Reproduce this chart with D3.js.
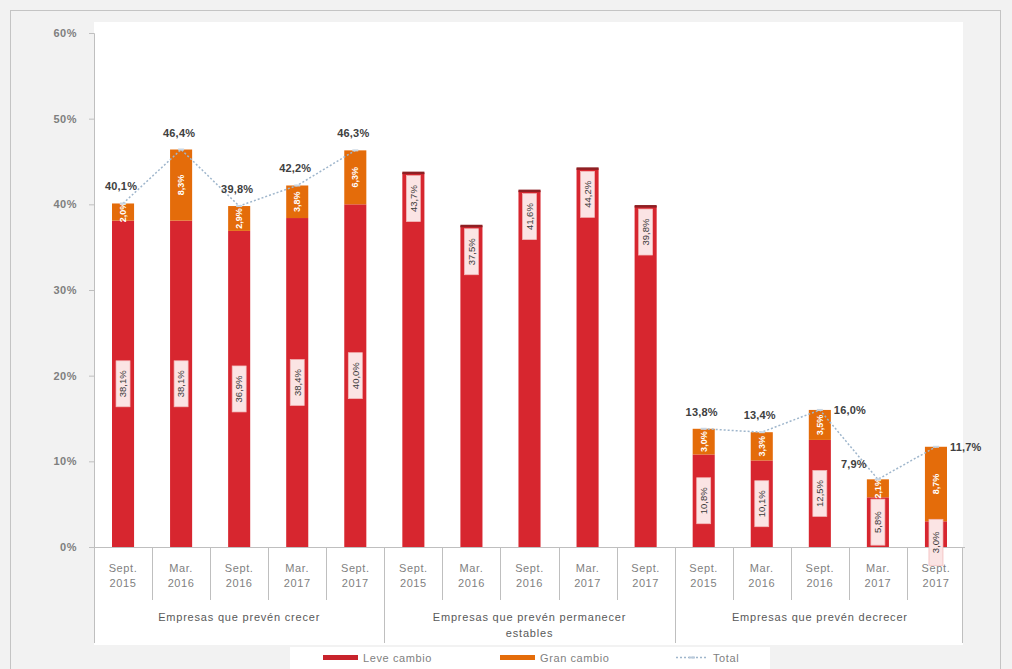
<!DOCTYPE html>
<html><head><meta charset="utf-8">
<script src="https://cdn.jsdelivr.net/npm/d3@7"></script>
<style>
html,body{margin:0;padding:0;background:#f2f2f2;}
svg{display:block;font-family:"Liberation Sans",Arial,sans-serif;}
</style></head>
<body>
<svg id="c" width="1012" height="669"></svg>
<script>
// ---- data ----
const groups = ["Empresas que prevén crecer", "Empresas que prevén permanecer estables", "Empresas que prevén decrecer"];
const periods = ["Sept. 2015", "Mar. 2016", "Sept. 2016", "Mar. 2017", "Sept. 2017"];
const leveCambio = [38.1, 38.1, 36.9, 38.4, 40.0,  43.7, 37.5, 41.6, 44.2, 39.8,  10.8, 10.1, 12.5, 5.8, 3.0];
const granCambio = [2.0, 8.3, 2.9, 3.8, 6.3,  0, 0, 0, 0, 0,  3.0, 3.3, 3.5, 2.1, 8.7];
const totalValues = [40.1, 46.4, 39.8, 42.2, 46.3,  null, null, null, null, null,  13.8, 13.4, 16.0, 7.9, 11.7];
const yTicks = [0, 10, 20, 30, 40, 50, 60];
const legendLabels = ["Leve cambio", "Gran cambio", "Total"];

const RED = "#d7262f", ORANGE = "#e46c0a", LINE = "#9fb6cc";
const fmt = v => v.toFixed(1).replace(".", ",") + "%";

const rows = [];
groups.forEach((g, gi) => periods.forEach((p, pi) => {
  const i = gi * periods.length + pi;
  rows.push({key: gi + "-" + pi, group: gi, period: p, leve: leveCambio[i], gran: granCambio[i], total: totalValues[i], idx: i});
}));

const svg = d3.select("#c");
const L = 94, R = 965, T = 33, B = 547;

// frame
svg.append("rect").attr("x", 10.5).attr("y", 10.5).attr("width", 990).attr("height", 670)
  .attr("fill", "#f2f2f2").attr("stroke", "#c4c4c4");
svg.append("rect").attr("x", L).attr("y", 22).attr("width", 869).attr("height", 623).attr("fill", "#fff");

const x = d3.scaleBand().domain(rows.map(d => d.key)).range([L, R]).paddingInner(0.62).paddingOuter(0.31);
const y = d3.scaleLinear().domain([0, 60]).range([B, T]);

// y axis
const yAxis = svg.append("g").attr("transform", `translate(${L},0)`)
  .call(d3.axisLeft(y).tickValues(yTicks).tickFormat(d => d + "%").tickSize(5).tickPadding(12));
yAxis.select(".domain").attr("stroke", "#bfbfbf");
yAxis.selectAll(".tick line").attr("stroke", "#bfbfbf");
yAxis.selectAll("text").attr("fill", "#7f7f7f").attr("font-size", 11).attr("font-weight", "bold").style("letter-spacing", "0.5px");
svg.append("line").attr("x1", L + 0.5).attr("x2", L + 0.5).attr("y1", B).attr("y2", 643).attr("stroke", "#bfbfbf");

// x baseline
svg.append("line").attr("x1", L).attr("x2", R).attr("y1", B + 0.5).attr("y2", B + 0.5).attr("stroke", "#bfbfbf");

// category separators
const step = x.step();
rows.forEach((d, i) => {
  if (i === 0) return;
  const xs = Math.round(x(d.key) - (step - x.bandwidth()) / 2) + 0.5;
  const isGroup = i % periods.length === 0;
  svg.append("line").attr("x1", xs).attr("x2", xs).attr("y1", B).attr("y2", isGroup ? 643 : 600).attr("stroke", "#bfbfbf");
});
svg.append("line").attr("x1", R - 2.5).attr("x2", R - 2.5).attr("y1", B).attr("y2", 643).attr("stroke", "#bfbfbf");

// tick labels
const tl = svg.append("g");
rows.forEach(d => {
  const cx = x(d.key) + x.bandwidth() / 2;
  const parts = d.period.split(" ");
  const t = tl.append("text").attr("x", cx).attr("text-anchor", "middle").attr("fill", "#7f7f7f")
    .attr("font-size", 11).style("letter-spacing", "0.6px");
  t.append("tspan").attr("x", cx).attr("y", 572).text(parts[0]);
  t.append("tspan").attr("x", cx).attr("y", 587).text(parts[1]);
});

// group labels
groups.forEach((g, gi) => {
  const first = x(gi * 5 + "");
});
groups.forEach((g, gi) => {
  const a = x(gi + "-0") + x.bandwidth() / 2, b = x(gi + "-4") + x.bandwidth() / 2;
  const cx = (a + b) / 2;
  const t = svg.append("text").attr("x", cx).attr("text-anchor", "middle").attr("fill", "#595959")
    .attr("font-size", 11).style("letter-spacing", "0.8px");
  if (g.length > 32) {
    const w = g.split(" ");
    t.append("tspan").attr("x", cx).attr("y", 621).text(w.slice(0, -1).join(" "));
    t.append("tspan").attr("x", cx).attr("y", 637).text(w[w.length - 1]);
  } else {
    t.append("tspan").attr("x", cx).attr("y", 621).text(g);
  }
});

// bars
const bars = svg.append("g");
bars.selectAll("rect.leve").data(rows).join("rect").attr("class", "leve")
  .attr("x", d => x(d.key)).attr("width", x.bandwidth())
  .attr("y", d => y(d.leve)).attr("height", d => y(0) - y(d.leve)).attr("fill", RED);
bars.selectAll("rect.gran").data(rows.filter(d => d.gran > 0)).join("rect").attr("class", "gran")
  .attr("x", d => x(d.key)).attr("width", x.bandwidth())
  .attr("y", d => y(d.leve + d.gran)).attr("height", d => y(d.leve) - y(d.leve + d.gran)).attr("fill", ORANGE);
// dark cap on bars without total line
bars.selectAll("rect.cap").data(rows.filter(d => d.total == null)).join("rect").attr("class", "cap")
  .attr("x", d => x(d.key)).attr("width", x.bandwidth())
  .attr("y", d => y(d.leve) - 1).attr("height", 2.5).attr("fill", "#8e1f23");

// leve labels (rotated, boxed)
const ll = svg.append("g");
rows.forEach(d => {
  const cx = x(d.key) + x.bandwidth() / 2;
  const boxH = 46, boxW = 14;
  let cy;
  if (d.total == null) cy = y(d.leve) + 3 + boxH / 2;
  else cy = (y(0) + y(d.leve)) / 2;
  if (d.group === 2 && d.leve < 5) cy = y(d.leve) + boxH / 2 - 2;
  const g = ll.append("g").attr("transform", `translate(${cx},${cy}) rotate(-90)`);
  g.append("rect").attr("x", -boxH / 2).attr("y", -boxW / 2).attr("width", boxH).attr("height", boxW)
    .attr("fill", "#fbe4e4").attr("stroke", "#f3b8b8").attr("stroke-width", 0.7);
  g.append("text").attr("text-anchor", "middle").attr("dy", "0.35em").attr("font-size", 9.5)
    .attr("fill", "#3a3a3a").text(fmt(d.leve));
});

// gran labels
rows.filter(d => d.gran > 0).forEach(d => {
  const cx = x(d.key) + x.bandwidth() / 2;
  const cy = (y(d.leve) + y(d.leve + d.gran)) / 2;
  svg.append("text").attr("transform", `translate(${cx},${cy}) rotate(-90)`)
    .attr("text-anchor", "middle").attr("dy", "0.35em").attr("font-size", 9).attr("font-weight", "bold")
    .attr("fill", "#fff").text(fmt(d.gran));
});

// total line
const line = d3.line().defined(d => d.total != null)
  .x(d => x(d.key) + x.bandwidth() / 2).y(d => y(d.total));
svg.append("path").datum(rows).attr("d", line).attr("fill", "none")
  .attr("stroke", LINE).attr("stroke-width", 1.5).attr("stroke-dasharray", "2,2");
rows.filter(d => d.total != null).forEach(d => {
  const cx = x(d.key) + x.bandwidth() / 2;
  svg.append("line").attr("x1", cx - 3).attr("x2", cx + 3).attr("y1", y(d.total)).attr("y2", y(d.total))
    .attr("stroke", "#c9d6e3").attr("stroke-width", 2);
});
// total labels
const rightSide = new Set([12, 14]);
rows.filter(d => d.total != null).forEach(d => {
  const cx = x(d.key) + x.bandwidth() / 2;
  const py = y(d.total);
  const t = svg.append("text").attr("font-size", 11).attr("font-weight", "bold").attr("fill", "#404040")
    .style("letter-spacing", "0.2px").text(fmt(d.total));
  if (rightSide.has(d.idx)) {
    t.attr("x", cx + 14).attr("y", py + 4).attr("text-anchor", "start");
  } else if (d.idx === 13) {
    t.attr("x", cx - 24).attr("y", py - 11).attr("text-anchor", "middle");
  } else {
    t.attr("x", cx - 2).attr("y", py - 13).attr("text-anchor", "middle");
  }
});

// legend
svg.append("rect").attr("x", 290).attr("y", 647).attr("width", 480).attr("height", 22).attr("fill", "#fff");
const lg = svg.append("g").attr("font-size", 11).attr("fill", "#7f7f7f").style("letter-spacing", "0.6px");
lg.append("rect").attr("x", 323).attr("y", 655).attr("width", 35).attr("height", 5).attr("fill", "#c8232c");
lg.append("text").attr("x", 363).attr("y", 662).text(legendLabels[0]);
lg.append("rect").attr("x", 500).attr("y", 655).attr("width", 35).attr("height", 5).attr("fill", ORANGE);
lg.append("text").attr("x", 540).attr("y", 662).text(legendLabels[1]);
lg.append("line").attr("x1", 676).attr("x2", 708).attr("y1", 657.5).attr("y2", 657.5)
  .attr("stroke", LINE).attr("stroke-width", 1.5).attr("stroke-dasharray", "2,2");
lg.append("line").attr("x1", 689).attr("x2", 695).attr("y1", 657.5).attr("y2", 657.5)
  .attr("stroke", "#b8c9da").attr("stroke-width", 2);
lg.append("text").attr("x", 713).attr("y", 662).text(legendLabels[2]);
</script>
</body></html>
